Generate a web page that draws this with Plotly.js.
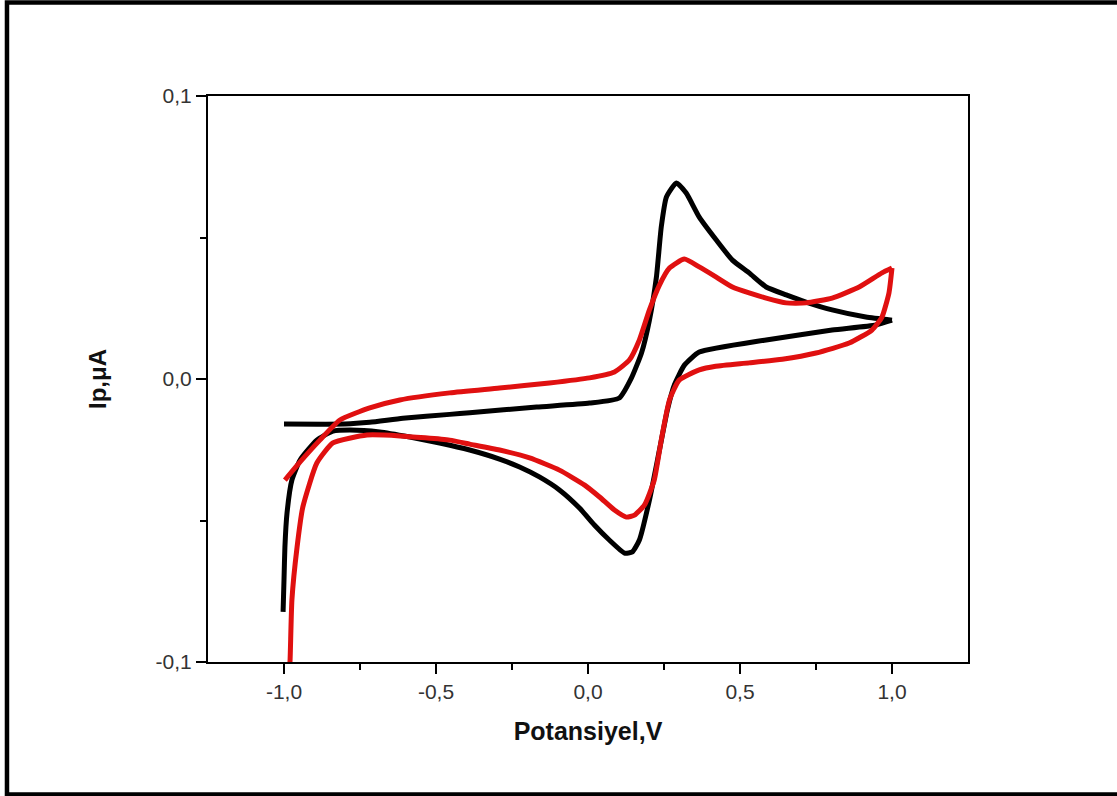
<!DOCTYPE html>
<html>
<head>
<meta charset="utf-8">
<script src="https://cdn.plot.ly/plotly-3.0.1.min.js"></script>
<style>
html,body{margin:0;padding:0;background:#fff;}
#chart{width:1117px;height:796px;}
</style>
</head>
<body>
<div id="chart"></div>
<script>
// Black CV: forward (anodic) scan, potential V and current
const blackFwdE = [-1.0, -0.80, -0.718, -0.609, -0.455, -0.389, -0.169, 0.005, 0.103, 0.143, 0.176, 0.202, 0.225, 0.241, 0.258, 0.291, 0.323, 0.366, 0.422, 0.475, 0.530, 0.586, 0.652, 0.717, 0.803, 0.914, 1.0];
const blackFwdI = [-0.0159, -0.0159, -0.0153, -0.0139, -0.0125, -0.0119, -0.0099, -0.0085, -0.0067, 0.0004, 0.0092, 0.0208, 0.0360, 0.0537, 0.0643, 0.0693, 0.0657, 0.0572, 0.0491, 0.0420, 0.0375, 0.0325, 0.0297, 0.0272, 0.0244, 0.0219, 0.0208];
// Black CV: reverse (cathodic) scan
const blackRevE = [1.0, 0.947, 0.803, 0.586, 0.366, 0.317, 0.284, 0.261, 0.235, 0.202, 0.169, 0.146, 0.120, 0.070, 0.021, -0.028, -0.094, -0.160, -0.225, -0.291, -0.389, -0.488, -0.586, -0.685, -0.783, -0.839, -0.892, -0.947, -0.974, -0.990, -0.997, -1.0, -1.003];
const blackRevI = [0.0208, 0.0191, 0.0173, 0.0138, 0.0095, 0.0049, -0.0021, -0.0110, -0.0251, -0.0428, -0.0569, -0.0611, -0.0615, -0.0569, -0.0516, -0.0456, -0.0392, -0.0346, -0.0311, -0.0283, -0.0251, -0.0226, -0.0205, -0.0187, -0.0180, -0.0184, -0.0216, -0.0286, -0.0357, -0.0473, -0.0594, -0.0710, -0.0823];

// Red CV: forward scan
const redFwdE = [-0.997, -0.947, -0.882, -0.816, -0.718, -0.619, -0.455, -0.291, -0.127, 0.005, 0.087, 0.136, 0.169, 0.202, 0.235, 0.268, 0.317, 0.366, 0.422, 0.475, 0.530, 0.586, 0.652, 0.717, 0.803, 0.892, 0.967, 1.0];
const redFwdI = [-0.0357, -0.0293, -0.0216, -0.0145, -0.0102, -0.0074, -0.0049, -0.0032, -0.0014, 0.0004, 0.0025, 0.0067, 0.0138, 0.0244, 0.0332, 0.0392, 0.0424, 0.0396, 0.0360, 0.0325, 0.0304, 0.0286, 0.0269, 0.0269, 0.0286, 0.0325, 0.0375, 0.0392];
// Red CV: reverse scan
const redRevE = [1.0, 0.990, 0.967, 0.934, 0.859, 0.750, 0.639, 0.530, 0.420, 0.366, 0.300, 0.268, 0.241, 0.218, 0.186, 0.153, 0.126, 0.087, 0.038, -0.011, -0.094, -0.192, -0.291, -0.389, -0.455, -0.619, -0.727, -0.839, -0.892, -0.938, -0.957, -0.974, -0.980, -0.984];
const redRevI = [0.0392, 0.0304, 0.0219, 0.0173, 0.0127, 0.0092, 0.0070, 0.0057, 0.0045, 0.0032, -0.0004, -0.0074, -0.0216, -0.0357, -0.0445, -0.0481, -0.0488, -0.0463, -0.0417, -0.0375, -0.0322, -0.0279, -0.0251, -0.0230, -0.0216, -0.0201, -0.0198, -0.0226, -0.0297, -0.0452, -0.0594, -0.0781, -0.0993, -0.1060];

const xTickVals = [-1.0, -0.5, 0.0, 0.5, 1.0];
const xTickText = ['-1,0', '-0,5', '0,0', '0,5', '1,0'];
const yTickVals = [-0.1, 0.0, 0.1];
const yTickText = ['-0,1', '0,0', '0,1'];

function curve(x, y, color) {
  return {x: x, y: y, type: 'scatter', mode: 'lines',
          line: {color: color, width: 5, shape: 'spline', smoothing: 0.5},
          showlegend: false};
}

const traces = [
  curve(blackFwdE, blackFwdI, '#000000'),
  curve(blackRevE, blackRevI, '#000000'),
  curve(redFwdE, redFwdI, '#e01010'),
  curve(redRevE, redRevI, '#e01010')
];

const layout = {
  width: 1117, height: 796,
  margin: {l: 208, r: 149, t: 96, b: 134},
  paper_bgcolor: '#ffffff', plot_bgcolor: '#ffffff',
  showlegend: false,
  font: {family: 'Liberation Sans, Arial, sans-serif', color: '#333333'},
  xaxis: {
    range: [-1.25, 1.25], autorange: false,
    tickvals: xTickVals, ticktext: xTickText,
    ticks: 'outside', ticklen: 10, tickwidth: 2, tickcolor: '#000',
    minor: {tickvals: [-0.75, -0.25, 0.25, 0.75], ticks: 'outside', ticklen: 6, tickwidth: 2, tickcolor: '#000'},
    showline: true, linecolor: '#000', linewidth: 2, mirror: true,
    showgrid: false, zeroline: false,
    tickfont: {size: 21, color: '#333'},
    title: {text: '<b>Potansiyel,V</b>', font: {size: 25, color: '#111'}, standoff: 20}
  },
  yaxis: {
    range: [-0.1, 0.1], autorange: false,
    tickvals: yTickVals, ticktext: yTickText,
    ticks: 'outside', ticklen: 10, tickwidth: 2, tickcolor: '#000',
    minor: {tickvals: [-0.05, 0.05], ticks: 'outside', ticklen: 6, tickwidth: 2, tickcolor: '#000'},
    showline: true, linecolor: '#000', linewidth: 2, mirror: true,
    showgrid: false, zeroline: false,
    tickfont: {size: 21, color: '#333'},
    title: {text: '<b>Ip,μA</b>', font: {size: 24, color: '#111'}, standoff: 42}
  },
  shapes: [
    {type: 'path', xref: 'paper', yref: 'paper',
     path: 'M 1.2 1.1652 L -0.2645 1.1652 L -0.2645 -0.2340 L 1.2 -0.2340',
     line: {color: '#000', width: 4.5}, layer: 'above'}
  ]
};

Plotly.newPlot('chart', traces, layout, {displayModeBar: false, staticPlot: true});
</script>
</body>
</html>
